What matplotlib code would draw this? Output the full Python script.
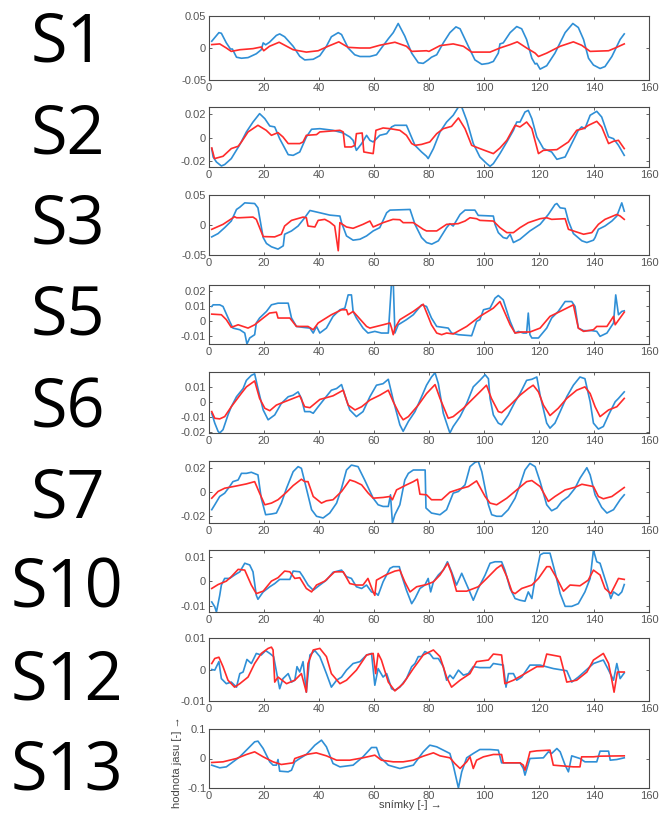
import numpy as np
import matplotlib
matplotlib.use("Agg")
import matplotlib.pyplot as plt

# subject labels, one panel each
subjects = ["S1", "S2", "S3", "S5", "S6", "S7", "S10", "S12", "S13"]

# (frame, value) points; blue = raw signal, red = reference
S1_BLUE = [(1, 0.0106), (3.6, 0.024), (4.5, 0.023), (6.3, 0.008), (7.8, -0.0016), (8.5, -0.0016),
           (10, -0.0144), (11.8, -0.016), (14.2, -0.015), (17.2, -0.009), (19, -0.0027), (19.7, 0.008),
           (20.6, 0.005), (22, 0.009), (24.5, 0.0197), (25.7, 0.022), (27.5, 0.0176), (30.6, 0.0027),
           (33, -0.013), (34.8, -0.0186), (37.9, -0.0176), (40.3, -0.012), (42.7, 0.0027), (44.5, 0.0176),
           (47, 0.024), (48.2, 0.021), (50.6, 0), (53, -0.0106), (54.9, -0.0133), (58.5, -0.0133),
           (60.9, -0.0106), (62.7, 0), (65.2, 0.0144), (67, 0.024), (68.8, 0.0383), (71.2, 0.0186),
           (73.7, -0.008), (76.1, -0.023), (77.9, -0.024), (79.7, -0.0186), (80.9, -0.0144), (82.8, -0.0106),
           (85.2, 0.008), (87.6, 0.024), (89.8, 0.033), (91.3, 0.030), (94.3, 0.0027), (96.7, -0.0186),
           (99.2, -0.0255), (101.6, -0.024), (103.4, -0.021), (105.2, -0.008), (105.8, 0.0064), (107, 0.008),
           (109.5, 0.024), (111.9, 0.0335), (113.7, 0.030), (115.5, 0.0133), (117.4, -0.016), (118.6, -0.025),
           (119.2, -0.024), (120.4, -0.033), (122.8, -0.0277), (125.8, -0.008), (129.5, 0.024), (132.3, 0.0383),
           (134.3, 0.032), (136.2, 0.0133), (138, -0.016), (139.8, -0.0266), (142.2, -0.032), (144, -0.029),
           (146.5, -0.0133), (149.5, 0.0133), (151, 0.022)]
S1_RED = [(1, 0.0053), (3.9, 0.0064), (6.3, 0), (8.1, -0.0053), (11.2, -0.0027), (16, -0.001),
          (19, 0.0016), (19.9, -0.0043), (22, 0.0027), (25.5, 0.009), (30.6, -0.0027), (35.4, -0.0064),
          (39.7, -0.0043), (43.3, 0.0027), (47.2, 0.0096), (50.6, 0.001), (54.9, 0), (58.5, 0),
          (62.1, 0.0043), (67.6, 0.009), (71.8, 0.0027), (73.7, -0.0053), (79.1, -0.0043), (80, -0.0053),
          (84, 0.0037), (88.8, 0.0064), (92.5, 0.0027), (95.5, -0.0064), (102.2, -0.0064), (105.8, 0),
          (109.5, 0.0053), (112.1, 0.0096), (115.5, 0), (118.6, -0.008), (119.8, -0.0133), (122.8, -0.008),
          (127.7, 0.0027), (132.5, 0.0096), (135.5, 0.0043), (138.6, -0.0053), (145.3, -0.0043),
          (147.7, 0), (151, 0.0064)]

S2_BLUE = [(1, -0.0094), (1.5, -0.0166), (2.7, -0.0209), (4.5, -0.0243), (5.7, -0.0231), (8.1, -0.018),
           (11.2, -0.006), (13.6, 0.0049), (16, 0.0134), (18.4, 0.0206), (20.3, 0.0163), (22.1, 0.010),
           (23.9, 0.0092), (25.7, -0.0009), (28.8, -0.0146), (30.6, -0.0152), (33, -0.0123), (35.4, 0.0006),
           (37.3, 0.0072), (40.3, 0.0077), (45.1, 0.0063), (48.8, 0.004), (51.2, 0.0006), (52.4, -0.0023),
           (53.6, -0.0109), (55.5, -0.0051), (57.3, 0.002), (58.5, -0.0023), (59.7, -0.0037), (62.1, 0.002),
           (64.6, 0.0034), (66.4, 0.0092), (67.6, 0.0106), (71.8, 0.0106), (73.1, 0.0034), (74.9, -0.0066),
           (77.3, -0.0123), (79.1, -0.016), (79.7, -0.018), (81.6, -0.0094), (84, 0.0049), (86.4, 0.0134),
           (88.8, 0.0192), (90.7, 0.0263), (91.9, 0.0263), (93.7, 0.0149), (96.1, -0.0051), (98.5, -0.0166),
           (101, -0.0223), (102.2, -0.0246), (103.4, -0.0223), (105.8, -0.0137), (108.3, -0.0037),
           (110.7, 0.0063), (111.9, 0.0134), (113.1, 0.0134), (114.9, 0.022), (116.1, 0.0234), (117.4, 0.0163),
           (119.2, 0.0006), (121.6, -0.0094), (124.6, -0.0123), (126.5, -0.0186), (129.5, -0.0166),
           (132.5, -0.0023), (134.3, 0.0063), (135.5, 0.0092), (136.7, 0.0077), (138.6, 0.0192), (141, 0.0226),
           (142.8, 0.0177), (145.3, 0.0006), (147.1, -0.0009), (148.9, -0.0066), (151, -0.0152)]
S2_RED = [(1, -0.0089), (2, -0.018), (5.1, -0.016), (8.1, -0.0094), (10.6, -0.0074), (11.8, -0.0037),
          (14.2, 0.0049), (17.8, 0.0106), (20.8, 0.0063), (22.7, 0.002), (25.1, 0.0043), (26.9, 0.0006),
          (28.8, -0.0051), (33, -0.0051), (34.2, -0.0037), (35.4, 0.002), (39.1, 0.0026), (40.3, 0.0049),
          (47.6, 0.0063), (48.8, 0.0049), (49.4, -0.008), (51.8, -0.008), (53.1, -0.0066), (53.6, 0.0034),
          (55.7, 0.004), (56.3, -0.0123), (59.7, -0.0137), (60.7, 0.0063), (63.3, 0.0083), (65.8, 0.0077),
          (69.4, 0.0063), (71.8, 0.002), (73.7, -0.0051), (74.9, -0.0066), (77.3, -0.0058), (80.3, -0.0037),
          (82.8, 0.0034), (85.2, 0.0077), (88.2, 0.0097), (90.7, 0.0169), (93.1, 0.0077), (95.5, -0.0066),
          (98.5, -0.0094), (103.4, -0.0137), (105.8, -0.0089), (108.3, -0.0023), (111.3, 0.0106),
          (113.1, 0.0092), (115.5, 0.0134), (117.4, 0.0077), (119.8, -0.0137), (121.6, -0.0109),
          (126.5, -0.0103), (130.7, -0.0037), (133.7, 0.0063), (136.1, 0.0077), (138, 0.0106), (141, 0.014),
          (142.8, 0.0092), (145.3, -0.0051), (147.1, -0.0031), (148.9, -0.0023), (151, -0.0094)]

S3_BLUE = [(1, -0.0198), (3.3, -0.0143), (5.7, -0.0044), (8.1, 0.0066), (10, 0.0259), (11.2, 0.0297),
           (13, 0.0369), (16.6, 0.0358), (17.8, 0.0286), (19.7, -0.0209), (20.9, -0.0308), (22.7, -0.0363),
           (25.1, -0.0402), (27, -0.0347), (27.5, -0.0154), (30, -0.0099), (32.4, -0.0017), (34.8, 0.0121),
           (36.7, 0.0242), (40.3, 0.0204), (43.9, 0.0165), (47.6, 0.0149), (48.2, 0.0039), (50, -0.0182),
           (52.4, -0.0253), (54.9, -0.0237), (57.3, -0.0182), (59.7, -0.0099), (62.1, -0.0044), (64.6, 0.0204),
           (65.8, 0.0248), (73.1, 0.0259), (74.9, 0.0011), (77.3, -0.0209), (79.1, -0.0292), (81, -0.0319),
           (83.4, -0.0264), (86.4, -0.0044), (87.6, 0.0022), (88.8, -0.0017), (91.3, 0.0176), (93.1, 0.0248),
           (96.7, 0.0248), (97.9, 0.016), (103.4, 0.0149), (104, 0.0011), (105.2, -0.0127), (107, -0.0209),
           (108.3, -0.0225), (109.5, -0.0154), (110.7, -0.0292), (113.1, -0.0237), (116.7, -0.0099),
           (120.4, 0.0011), (123.4, 0.0176), (125.8, 0.0341), (126.5, 0.0358), (127.7, 0.0286), (129.5, 0.0275),
           (130.7, 0.0066), (132.5, -0.0143), (135.6, -0.0264), (137.4, -0.0292), (139.8, -0.0253),
           (140.4, -0.0209), (141.6, -0.0072), (144, -0.0017), (146.5, 0.0066), (148.3, 0.0149),
           (150.1, 0.0369), (151, 0.0231)]
S3_RED = [(1, -0.0072), (5.1, 0.0011), (9.3, 0.0138), (10, 0.0121), (11.2, 0.0121), (16, 0.0132),
          (17.2, 0.0094), (19.7, -0.0193), (23.9, -0.0198), (26.3, -0.0154), (27.5, -0.0017), (30, 0.0077),
          (34.2, 0.0132), (35.4, 0.0121), (36, -0.0017), (38.5, -0.0033), (39.7, 0.0077), (42.1, 0.0094),
          (43.9, 0.005), (45.7, -0.0017), (47, -0.0429), (47.6, 0.0039), (50, -0.0033), (52.4, -0.0055),
          (56, 0.0011), (58.5, 0.0066), (59.7, -0.0033), (63.3, 0.0039), (66.9, 0.0094), (69.4, 0.0088),
          (70.6, 0.0039), (74.3, 0.0039), (77.9, -0.0072), (79.1, -0.0099), (82.8, -0.0099), (86.4, 0.0011),
          (90.6, 0.0022), (93.1, 0.0066), (94.9, 0.0121), (97.3, 0.0105), (98.5, 0.0077), (103.4, 0.0066),
          (105.8, -0.0044), (108.3, -0.0127), (110.7, -0.0127), (113.1, -0.0044), (116.1, 0.0039),
          (120.4, 0.0105), (122.8, 0.0121), (124.6, 0.0094), (129.5, 0.0105), (130.7, -0.0072),
          (132.5, -0.0099), (136.2, -0.0154), (139.2, -0.0127), (141.6, 0.0011), (144, 0.0094),
          (148.3, 0.0176), (149.5, 0.015), (151, 0.0094)]

S5_BLUE = [(1, 0.0095), (1.5, 0.0106), (3.9, 0.0106), (5.1, 0.0095), (7.5, -0.0004), (8.7, -0.0049),
           (11.2, -0.006), (13, -0.0082), (13.8, -0.0155), (14.8, -0.0115), (16.6, -0.0093), (17.2, -0.0015),
           (18.4, 0.0018), (20.9, 0.0062), (22.7, 0.0106), (25.1, 0.0117), (28.8, 0.0117), (30, 0.0018),
           (31.8, -0.0038), (34.2, -0.0044), (36.7, -0.0049), (37.9, -0.0082), (39.1, -0.0038), (40.3, -0.0082),
           (42.7, -0.0049), (45.1, 0.0029), (47.6, 0.0073), (49.4, 0.0084), (50.6, 0.0172), (51.8, 0.0172),
           (52.4, 0.0062), (53.6, 0.0018), (56, -0.0049), (57.8, -0.0082), (60.3, -0.0071), (62.7, -0.0082),
           (65.2, -0.0082), (66.4, 0.026), (67, 0.026), (67.6, -0.0082), (68.8, -0.0027), (71.8, 0.0007),
           (74.3, 0.004), (77.3, 0.0106), (79.1, 0.0095), (80.9, 0.0018), (82.8, -0.0038), (87, -0.0049),
           (88.2, -0.0082), (90.7, -0.0093), (95.5, -0.010), (97.3, -0.0004), (98.5, 0.0007), (99.8, 0.0073),
           (102.2, 0.0084), (104, 0.015), (105.2, 0.0168), (107, 0.0139), (109.5, -0.0004), (111.3, -0.0082),
           (112.5, -0.0071), (114.3, -0.0082), (115.5, -0.0082), (116.1, 0.0051), (116.7, -0.0093),
           (117.4, -0.0115), (119.8, -0.0115), (122.8, -0.0049), (124.6, 0.0018), (127, 0.0062),
           (129.5, 0.0128), (131.9, 0.0128), (133.1, 0.0095), (134.3, -0.0049), (136.2, -0.0066),
           (139.2, -0.0066), (141, -0.0071), (142.2, -0.0104), (144.7, -0.0082), (147.1, -0.0015),
           (147.9, 0.0172), (148.9, 0.004), (150.1, 0.0062), (151, 0.0066)]
S5_RED = [(1, 0.0044), (4.5, 0.004), (6.3, 0.0007), (8.1, -0.0044), (10.6, -0.0027), (14.2, -0.0049),
          (16.6, -0.0027), (19.7, 0.0018), (22, 0.0051), (24.5, 0.0057), (25.1, 0.0018), (29.4, 0.0018),
          (31.8, -0.0038), (36, -0.0038), (37.9, -0.006), (39.7, -0.0015), (44.5, 0.004), (48.2, 0.0073),
          (50, 0.0073), (50.6, 0.004), (52.4, 0.0062), (57.3, -0.0038), (58.5, -0.0049), (63.3, -0.0027),
          (65.8, -0.0015), (66.4, -0.0049), (67, -0.0093), (67.6, -0.0049), (69.4, 0.0007), (74.3, 0.0062),
          (77.9, 0.011), (80.9, -0.0027), (82.8, -0.0082), (84.6, -0.0093), (86.4, -0.0082), (88.8, -0.0088),
          (93.7, -0.0038), (98.5, 0.0029), (103.4, 0.0084), (105.8, 0.0128), (109.5, -0.0027),
          (111.3, -0.0082), (113.7, -0.0075), (116.7, -0.0075), (120.4, -0.0049), (124, 0.0029),
          (127.7, 0.0062), (132.5, 0.0106), (134.3, -0.0049), (136.2, -0.0071), (139.8, -0.006),
          (141, -0.0038), (144.7, -0.0038), (147.1, 0.0029), (147.7, -0.0027), (151, 0.0057)]

S6_BLUE = [(1, -0.0076), (2.1, -0.0141), (3.3, -0.0195), (3.9, -0.0206), (5.1, -0.0184), (6.9, -0.0087),
           (8.1, -0.0033), (10, 0.0033), (12.4, 0.0087), (13.6, 0.0141), (15.4, 0.0174), (16.6, 0.0184),
           (17.8, 0.0087), (19.7, -0.0054), (21.5, -0.0119), (23.9, -0.0087), (26.3, -0.0011), (28.8, 0.0033),
           (30.6, 0.0043), (32.4, 0.0065), (33.6, 0.0022), (34.8, -0.0065), (36.7, -0.0065), (37.9, -0.0076),
           (39.7, -0.0033), (42.1, 0.0022), (44.5, 0.0076), (46.4, 0.0087), (48.2, 0.0113), (49.4, 0.0043),
           (51.2, -0.0054), (53.6, -0.0098), (56, -0.0065), (58.5, 0.0033), (60.9, 0.0109), (63.3, 0.0119),
           (65.2, 0.0148), (67, 0.0011), (69.4, -0.0152), (70.6, -0.0195), (72.5, -0.013), (74.9, -0.0065),
           (77.3, 0.0033), (79.1, 0.0109), (80.9, 0.0163), (82.2, 0.0191), (83.4, 0.0119), (85.2, -0.0076),
           (87, -0.0174), (87.6, -0.0206), (88.8, -0.0163), (91.3, -0.0098), (93.7, -0.0011), (96.1, 0.0098),
           (98.5, 0.0141), (100.4, 0.0178), (101.6, 0.0152), (102.2, 0.0022), (103.4, -0.0087),
           (105.2, -0.0141), (106.4, -0.0152), (108.8, -0.0087), (111.3, 0), (113.1, 0.0054), (115.5, 0.0141),
           (117.4, 0.0148), (119.2, 0.0163), (120.4, 0.0043), (122.8, -0.0141), (124, -0.0174),
           (125.8, -0.0141), (127.7, -0.0065), (130.1, 0.0033), (132.5, 0.0109), (134.9, 0.0163),
           (136.7, 0.0152), (138.6, 0), (139.8, -0.0141), (141.6, -0.018), (143.4, -0.0163), (145.3, -0.0087),
           (147.7, 0), (148.9, 0.0022), (151, 0.0065)]
S6_RED = [(1, -0.0065), (2.1, -0.0109), (3.9, -0.0113), (5.7, -0.0098), (8.1, -0.0033), (11.7, 0.0054),
          (13.6, 0.0098), (16.6, 0.0137), (18.4, 0.0022), (20.3, -0.0043), (22.1, -0.0059), (24.5, -0.0022),
          (27.5, 0), (33, 0.0039), (34.8, -0.0033), (36.7, -0.0039), (40.3, 0.0015), (45.1, 0.0039),
          (48.8, 0.0076), (50.6, -0.0022), (53.1, -0.0054), (55.5, -0.0033), (58.5, 0.0011), (62.1, 0.0043),
          (65.2, 0.0076), (67, 0), (69.4, -0.0087), (70.6, -0.0119), (72.5, -0.0098), (76.1, -0.0022),
          (79.1, 0.0054), (82.2, 0.0113), (84, 0.0022), (87, -0.0109), (88.8, -0.0098), (92.5, -0.0043),
          (96.1, 0.0022), (98.5, 0.0065), (100.9, 0.0109), (102.7, 0.0022), (105.2, -0.0065),
          (106.4, -0.0072), (109.5, -0.0022), (113.1, 0.0043), (116.1, 0.0087), (117.9, 0.0109),
          (119.8, 0.0065), (121.6, -0.0022), (124, -0.0091), (127, -0.0043), (130.1, 0.0022), (133.7, 0.0076),
          (136.7, 0.0098), (138.6, 0.0054), (140.4, -0.0033), (142.2, -0.0098), (145.3, -0.0054),
          (148.3, -0.0033), (151, 0.0022)]

S7_BLUE = [(1, -0.0146), (2.1, -0.0105), (3.9, -0.0036), (5.7, -0.0008), (7.5, 0.0047), (8.7, 0.0088),
           (10.6, 0.0102), (11.8, 0.0157), (13.6, 0.0157), (15.4, 0.0166), (17.8, 0.0144), (19, -0.005),
           (20.6, -0.0188), (22.7, -0.0182), (24.5, -0.0174), (26.3, -0.0091), (28.2, 0.0033), (30.6, 0.0171),
           (32.4, 0.0213), (33.6, 0.0199), (34.8, 0.0088), (37.3, -0.0146), (39.1, -0.0201), (41.5, -0.0215),
           (43.9, -0.0174), (46.4, -0.0091), (48.2, 0.0033), (50, 0.0185), (51.8, 0.0226), (54.2, 0.0213),
           (56.6, 0.0102), (59.7, -0.005), (61.5, -0.0105), (63.3, -0.0119), (65.2, -0.0119), (66, -0.0022),
           (66.7, -0.0257), (67.6, -0.0188), (69.4, -0.0105), (71.2, 0.0102), (72.5, 0.0157), (74.3, 0.0185),
           (78.6, 0.0185), (78.9, -0.0132), (80.9, -0.0174), (84, -0.0188), (86.4, -0.0146), (88.8, -0.0008),
           (90.7, 0.0006), (93.1, 0.0061), (94.9, 0.0213), (96.7, 0.0248), (97.9, 0.0258), (99.2, 0.0171),
           (101.6, -0.0105), (102.8, -0.0188), (104.6, -0.0201), (106.4, -0.0201), (108.8, -0.0146),
           (111.3, -0.005), (113.1, 0.0061), (114.9, 0.0185), (116.7, 0.024), (118.6, 0.0213), (120.4, 0.0088),
           (122.8, -0.0105), (124.6, -0.0155), (126.5, -0.0132), (128.3, -0.0077), (130.7, -0.0036),
           (133.1, 0.0033), (134.9, 0.0116), (137.4, 0.0204), (138.6, 0.0144), (140.4, -0.0022),
           (142.8, -0.0127), (144.7, -0.0174), (147.1, -0.0146), (149.5, -0.0063), (151, -0.0022)]
S7_RED = [(1, -0.005), (3.3, 0.0006), (5.7, 0.0033), (10, 0.0052), (13.6, 0.0069), (16.6, 0.0088),
          (18.4, -0.0008), (20.3, -0.0105), (22.7, -0.0091), (25.1, -0.0063), (28.2, 0), (30.6, 0.0055),
          (33.6, 0.0108), (34.8, 0.0088), (36, 0.0088), (37.9, -0.0036), (40.9, -0.0091), (42.7, -0.0072),
          (45.1, -0.0063), (48.2, 0.0006), (51.2, 0.0102), (53.1, 0.0088), (55.5, 0.0061), (57.9, -0.0008),
          (59.7, -0.005), (63.3, -0.0044), (65.8, -0.0036), (66.7, -0.0063), (68.2, 0.0019), (71.8, 0.0061),
          (74.3, 0.0088), (75.8, 0.0108), (76.7, -0.0017), (79.1, -0.0022), (80.9, -0.0063), (84.6, -0.0063),
          (87.6, 0), (91.3, 0.0028), (94.3, 0.0047), (97.3, 0.0094), (100.4, -0.0036), (102.2, -0.0091),
          (104.6, -0.0105), (108.3, -0.005), (111.9, 0.0019), (115.5, 0.0088), (117.4, 0.0097),
          (120.4, 0.0047), (123.4, -0.0077), (125.8, -0.0036), (129.5, 0.0019), (133.1, 0.0041),
          (135.6, 0.0066), (139.8, 0.0047), (141.6, -0.0036), (143.4, -0.0055), (146.5, -0.0036),
          (151, 0.0039)]

S10_BLUE = [(1, -0.0085), (2.1, -0.0105), (2.7, -0.0126), (3.9, -0.0058), (4.5, -0.0016), (5.7, 0.0011),
            (7.5, 0.0011), (9.3, 0.0025), (11.2, 0.0038), (13, 0.0073), (14.8, 0.0066), (16, 0.0038),
            (17.2, -0.0058), (17.8, -0.0074), (19.7, -0.0044), (22.1, -0.0023), (23.9, -0.001), (25.7, 0.0007),
            (29.4, 0.0007), (30.6, 0.0041), (33, 0.0038), (34.2, 0.0018), (36, -0.0016), (37.9, -0.0037),
            (40.3, -0.0016), (42.7, 0.0004), (45.1, 0.0036), (48.2, 0.0045), (50, 0.0018), (51.8, 0.0011),
            (53.6, -0.0023), (55.5, -0.003), (57.3, -0.0016), (59.1, -0.0044), (60.9, -0.0051), (61.5, -0.0058),
            (63.3, -0.0003), (65.8, 0.0052), (67, 0.0059), (69.2, 0.0059), (70, 0.0025), (71.8, -0.0037),
            (73.7, -0.0092), (74.9, -0.0071), (76.7, -0.003), (78.5, -0.0016), (79.7, 0.0011), (80.6, -0.0044),
            (81.6, -0.0003), (83.4, 0.0025), (85.2, 0.0045), (86.7, 0.0079), (88.2, 0.0038), (90, -0.0016),
            (91.9, 0.0032), (94.3, -0.003), (96.1, -0.0078), (97.9, -0.003), (100.4, 0.0025), (102.2, 0.0073),
            (104, 0.0079), (106.4, 0.0079), (107.6, 0.0045), (109.5, -0.003), (111.3, -0.0071),
            (113.1, -0.0078), (114.9, -0.0082), (116.1, -0.0044), (117.4, -0.0071), (118.6, 0.0011),
            (120.4, 0.0107), (121.6, 0.0114), (124, 0.0114), (125.8, 0.0038), (127.7, -0.0051),
            (129.5, -0.0103), (131.9, -0.0103), (134.3, -0.0092), (136.7, -0.0044), (138.6, 0.0011),
            (139.8, 0.0127), (141, 0.0079), (142.2, 0.0073), (144.7, -0.0016), (146.1, -0.0071),
            (147.1, -0.0044), (148.9, -0.0058), (150.1, -0.0044), (151, -0.0014)]
S10_RED = [(1, -0.003), (3.3, -0.0014), (6.3, 0), (8.1, 0.0018), (10.6, 0.0048), (13, 0.0045),
           (15.4, -0.0016), (17.2, -0.0051), (19.7, -0.0041), (22.7, 0), (25.1, 0.0014), (27.5, 0.0041),
           (29.4, 0.0038), (31.2, 0.0011), (33, 0.0014), (35.4, -0.003), (37.3, -0.0044), (39.1, -0.0016),
           (42.1, 0), (45.7, 0.0038), (48.8, 0.0038), (51.2, -0.001), (53.6, -0.0016), (56, -0.0016),
           (57.8, 0.0011), (59.7, -0.0044), (60.3, -0.0058), (60.9, 0.0004), (64.6, 0.0027), (67.6, 0.0041),
           (69.4, 0.0045), (71.2, -0.0003), (73.1, -0.0044), (75.5, -0.0023), (79.1, -0.0014),
           (81.6, -0.0003), (84, 0.0025), (86.8, 0.0073), (88.2, 0.0032), (90, -0.0041), (93.7, -0.0041),
           (97.9, -0.0023), (101, 0.0011), (104.6, 0.0052), (106.4, 0.0066), (108.3, 0.0018), (110.2, -0.0044),
           (111.3, -0.0051), (113.7, -0.003), (117.4, -0.0016), (119.8, 0.0011), (122.8, 0.0059),
           (124, 0.0059), (126.5, 0.0011), (128.9, -0.0041), (131.3, -0.0016), (134.9, -0.0019),
           (137.9, 0.0004), (139.8, 0.0045), (142.2, 0.0025), (144, -0.003), (146.1, -0.0051),
           (147.7, -0.0016), (148.9, 0.0011), (151, 0.0007)]

S12_BLUE = [(1, 0), (2.1, -0.0002), (3.6, 0.0025), (4.5, -0.0029), (6.3, -0.0045), (8.1, -0.004),
            (10, -0.0056), (11.2, -0.0013), (12.4, -0.0008), (13.8, 0.0032), (15.4, 0.0019), (17.2, 0.0051),
            (19, 0.0046), (20.6, 0.006), (22.1, 0.0051), (23.5, 0.0041), (25.1, -0.0034), (25.7, -0.0061),
            (26.9, -0.0029), (28.8, -0.0013), (30, -0.004), (31.2, -0.0034), (32, 0.0009), (33, -0.0008),
            (34.2, 0.0025), (35.4, -0.0072), (36.7, 0.0046), (38.5, 0.006), (40.3, 0.0041), (41.3, 0.0019),
            (42.7, -0.0013), (44.5, -0.0056), (46.4, -0.0034), (48.2, -0.0024), (50, -0.0002), (52.4, 0.0019),
            (54.9, 0.0025), (57.3, 0.0046), (59.1, 0.0051), (60.3, -0.005), (61.5, 0.0003), (63.3, -0.0024),
            (64.6, -0.0013), (66.4, -0.0061), (67.6, -0.0066), (69.4, -0.0056), (71.8, -0.0029),
            (73.7, 0.0009), (74.9, 0.0019), (76.1, 0.0041), (77.3, 0.0041), (78.5, 0.0057), (80.4, 0.0049),
            (81.6, 0.0035), (83.4, 0.0035), (85.2, 0.0009), (86.4, -0.0034), (87.6, -0.0018), (88.8, -0.0029),
            (90.7, -0.0002), (92.5, -0.0018), (94.3, -0.0013), (96.1, 0.0009), (98.5, 0.0006),
            (102.2, 0.0006), (103.4, 0.0019), (107, 0.0014), (108, -0.0056), (108.9, -0.0013),
            (110.7, -0.0013), (111.9, -0.0034), (113.7, -0.0024), (116.7, 0.0014), (120.4, 0.0014),
            (125.2, 0.0003), (130.1, -0.0004), (131.9, -0.004), (134.3, -0.0024), (137.4, 0), (139.8, 0.0019),
            (143.4, 0.003), (145.3, -0.0002), (147.1, -0.0034), (148.3, 0.0019), (149.5, -0.0029),
            (151, -0.0011)]
S12_RED = [(1, 0.0019), (2.1, 0.0035), (3.6, 0.0039), (5.1, 0.0009), (6.9, -0.0034), (9.3, -0.0056),
           (11.2, -0.0045), (14.2, -0.0024), (16.6, 0.0019), (19, 0.0051), (21.5, 0.0067), (22.7, 0.0071),
           (23.3, 0.0062), (23.9, -0.004), (25.1, -0.0024), (28.2, -0.0045), (31.2, -0.0034), (33.6, -0.0013),
           (35.4, -0.0072), (36, 0.0019), (37.9, 0.0062), (40.3, 0.0067), (42.7, 0.0041), (44.5, -0.0013),
           (47.6, -0.0045), (50, -0.0034), (53.6, -0.0002), (57.3, 0.0046), (59.7, 0.0051), (60.6, -0.0013),
           (61.5, 0.0051), (62.7, 0.003), (65.2, -0.004), (67.6, -0.0068), (70.6, -0.0045), (74.3, 0.0003),
           (77.9, 0.0046), (81.6, 0.0062), (84, 0.0041), (86.4, -0.0024), (88.2, -0.0056), (91.3, -0.0034),
           (94.9, -0.0013), (97.3, 0.0025), (101.6, 0.003), (103.4, 0.0049), (106.4, 0.0046),
           (107.6, -0.0045), (110.7, -0.0034), (114.9, -0.0013), (119.2, 0.0009), (121.6, 0.0009),
           (122.8, 0.0049), (127.7, 0.0041), (130.1, -0.004), (133.7, -0.0034), (137.4, -0.0008),
           (139.8, 0.003), (143.4, 0.0051), (145.3, 0.0019), (146.5, -0.0034), (147.3, -0.0072),
           (148.5, -0.0008), (151, -0.0008)]

S13_BLUE = [(1, -0.0226), (3.9, -0.0316), (6.3, -0.0283), (11.2, 0.0057), (14.2, 0.0339), (16.6, 0.0565),
            (17.8, 0.0588), (19.7, 0.0339), (22.1, -0.0113), (23.3, -0.0226), (24.5, -0.0226), (25.1, -0.0034),
            (25.7, -0.0429), (28.8, -0.0452), (30, -0.0396), (31.2, -0.0113), (33, 0), (35.4, 0.0136),
            (38.5, 0.0452), (40.9, 0.0622), (42.7, 0.0396), (45.1, -0.017), (47.6, -0.0283), (52.4, -0.0226),
            (56, 0.0057), (59.1, 0.0373), (60.9, 0.0373), (62.1, 0.0057), (65.2, -0.0226), (69.4, -0.0339),
            (74.3, -0.0226), (77.9, 0.0226), (80.3, 0.0452), (82.8, 0.0396), (85.2, 0.0283), (87.6, 0.017),
            (88.8, -0.0226), (90.7, -0.1), (91.9, -0.0452), (93.7, 0.0023), (96.1, 0.017), (98.5, 0.0305),
            (102.2, 0.0305), (105.2, 0.0283), (106.4, -0.0147), (113.1, -0.0147), (114.3, -0.0339),
            (114.9, -0.0565), (116.7, 0), (121.6, 0.0023), (123.4, 0.0226), (124.6, 0.017), (126.5, 0.0339),
            (127.7, 0.0226), (129.5, -0.0226), (130.7, -0.0452), (131.9, 0.009), (134.9, 0), (136.7, -0.0113),
            (141, -0.0113), (142.2, 0.0249), (145.3, 0.0249), (145.9, -0.0057), (148.3, -0.0034),
            (151, 0.0023)]
S13_RED = [(1, -0.0136), (5.1, -0.0113), (10, 0), (13.6, 0.0136), (16.6, 0.0226), (19.7, 0.0057),
           (23.3, -0.0113), (26.3, -0.0203), (30.6, -0.0147), (31.2, 0), (35.4, 0.0136), (39, 0.0192),
           (42.7, 0.009), (46.4, -0.0057), (51.2, -0.0057), (56, 0.0023), (60.3, 0.0113), (62.7, -0.0057),
           (67, -0.0113), (70.6, -0.0113), (74.3, -0.0057), (77.9, 0.0079), (81.6, 0.0192), (84, 0.009),
           (87.6, 0.0023), (89.4, -0.017), (91.3, -0.0339), (93.7, -0.0113), (94.9, 0.0057), (96.1, -0.0339),
           (97.3, -0.0057), (99.8, 0.0057), (103.4, 0.0136), (106.4, 0.0136), (107, -0.0147), (113.1, -0.0147),
           (114.3, -0.0226), (114.9, -0.0396), (116.1, 0), (116.7, 0.0226), (119.2, 0.026), (124, 0.0283),
           (125.2, -0.0226), (132.5, -0.0283), (134.9, -0.0283), (135.5, 0.0057), (139.8, 0.0057),
           (142.2, 0.0079), (151, 0.009)]

blue_series = [S1_BLUE, S2_BLUE, S3_BLUE, S5_BLUE, S6_BLUE, S7_BLUE, S10_BLUE, S12_BLUE, S13_BLUE]
red_series = [S1_RED, S2_RED, S3_RED, S5_RED, S6_RED, S7_RED, S10_RED, S12_RED, S13_RED]

y_limits = [(-0.05, 0.05), (-0.0252, 0.0263), (-0.05, 0.05), (-0.0155, 0.0238), (-0.0206, 0.0196),
            (-0.0257, 0.026), (-0.0126, 0.0127), (-0.01, 0.01), (-0.1, 0.1)]
y_ticks = [[-0.05, 0, 0.05], [-0.02, 0, 0.02], [-0.05, 0, 0.05], [-0.01, 0, 0.01, 0.02],
           [-0.02, -0.01, 0, 0.01], [-0.02, 0, 0.02], [-0.01, 0, 0.01], [-0.01, 0, 0.01], [-0.1, 0, 0.1]]
x_ticks = [0, 20, 40, 60, 80, 100, 120, 140, 160]

# panel placement in pixels (top, bottom) of the 660x825 figure
W, H = 660, 825
panel_px = [(16, 80), (107, 167), (195, 255), (285, 344), (372, 433), (461, 523), (550, 612),
            (638, 701), (729, 788)]
label_baseline = [62, 153, 243, 335, 427, 518, 608, 700, 790]
label_left = [31, 31, 31, 31, 31, 31, 11, 11, 11]

blue = "#2f8fd6"
red = "#ff2b2b"
frame = "#4a4a4a"
tick_grey = "#555555"

fig = plt.figure(figsize=(W / 100, H / 100), dpi=100)

for i, name in enumerate(subjects):
    top, bot = panel_px[i]
    ax = fig.add_axes([209 / W, 1 - bot / H, 440 / W, (bot - top) / H])
    bx, by = np.array(blue_series[i]).T
    rx, ry = np.array(red_series[i]).T
    ax.plot(bx, by, color=blue, lw=1.2)
    ax.plot(rx, ry, color=red, lw=1.2)
    ax.set_xlim(0, 160)
    ax.set_ylim(*y_limits[i])
    ax.set_xticks(x_ticks)
    ax.set_yticks(y_ticks[i])
    ax.set_yticklabels([("%g" % t) for t in y_ticks[i]])
    ax.tick_params(direction="in", length=2.5, width=0.6, colors=frame, labelcolor=tick_grey,
                   labelsize=8, pad=2, top=True, right=True)
    for sp in ax.spines.values():
        sp.set_color(frame)
        sp.set_linewidth(0.8)
    for lab in ax.get_xticklabels() + ax.get_yticklabels():
        lab.set_fontfamily("Liberation Sans")

    fig.text(label_left[i] / W, 1 - label_baseline[i] / H, name, fontsize=48,
             family="Open Sans", va="baseline", ha="left", color="black")

fig.text(177 / W, 1 - 762 / H, "hodnota jasu [-] \u2192", rotation=90, fontsize=8,
         family="Liberation Sans", color="#444444", ha="center", va="center")
fig.text(410 / W, 1 - 805 / H, "sn\u00edmky [-] \u2192", fontsize=8,
         family="Liberation Sans", color="#444444", ha="center", va="center")

fig.savefig("out.png", dpi=100)
